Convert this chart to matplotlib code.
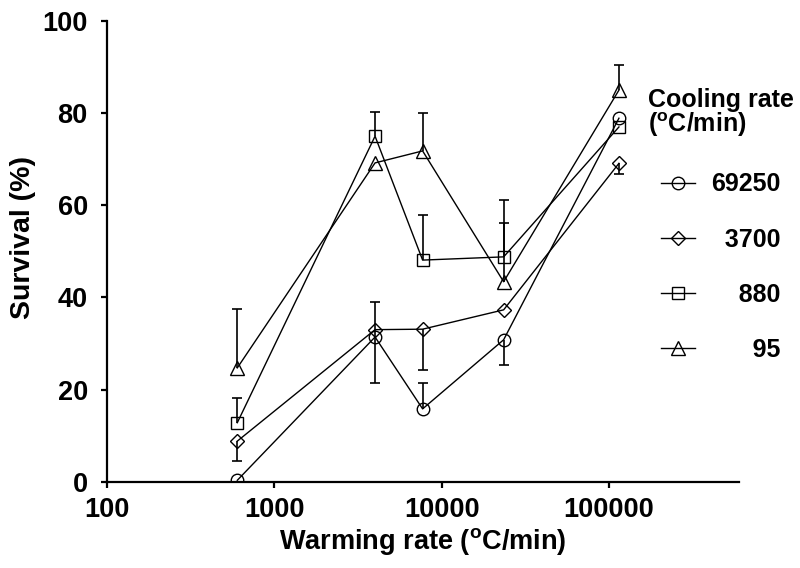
import numpy as np
import matplotlib as mpl
mpl.use('Agg')
import matplotlib.pyplot as plt
from matplotlib.lines import Line2D

plt.rcParams['font.family'] = ['Liberation Sans', 'DejaVu Sans']
plt.rcParams['font.weight'] = 'bold'
plt.rcParams['mathtext.fontset'] = 'custom'
plt.rcParams['mathtext.rm'] = 'Liberation Sans:bold'

# warming rates (x) and survival for each cooling rate
warming = [600, 4000, 7700, 23500, 115000]
labels = ['69250', '3700', '880', '95']
markers = ['o', 'D', 's', '^']

surv_69250 = [0.3, 31.4, 15.8, 30.8, 78.9]
surv_3700 = [8.8, 33.0, 33.1, 37.3, 69.1]
surv_880 = [12.8, 75.0, 48.1, 48.8, 77.0]
surv_95 = [24.7, 69.2, 71.8, 43.4, 85.0]

# error bars (lower, upper); 0 = not drawn
lo_69250 = [0, 9.9, 0, 5.5, 0]
up_69250 = [0, 7.6, 5.6, 0, 0]
lo_3700 = [4.3, 0, 8.9, 0, 2.4]
up_3700 = [0, 0, 0, 0, 0]
lo_880 = [0, 0, 0, 0, 0]
up_880 = [5.4, 5.2, 9.8, 12.3, 0]
lo_95 = [0, 0, 0, 0, 0]
up_95 = [12.7, 0, 8.2, 12.7, 5.4]

series = [surv_69250, surv_3700, surv_880, surv_95]
lows = [lo_69250, lo_3700, lo_880, lo_95]
ups = [up_69250, up_3700, up_880, up_95]

fig = plt.figure(figsize=(8, 5.68), dpi=100)
ax = fig.add_axes([0.134, 0.152, 0.79, 0.811])

msizes = {'o': 9, 'D': 7.5, 's': 9, '^': 10}
for y, lo, up, m in zip(series, lows, ups, markers):
    x = np.array(warming, dtype=float)
    y = np.array(y)
    lo = np.array(lo)
    up = np.array(up)
    ax.plot(x, y, color='black', lw=1.0, marker=m, ms=msizes[m],
            mfc='none', mec='black', mew=1.0, zorder=3)
    for xi, yi, l, u in zip(x, y, lo, up):
        if u > 0:
            ax.vlines(xi, yi, yi + u, color='black', lw=1.2, zorder=2)
            ax.plot(xi, yi + u, marker='_', ms=7, mew=1.2, color='black', zorder=2)
        if l > 0:
            ax.vlines(xi, yi - l, yi, color='black', lw=1.2, zorder=2)
            ax.plot(xi, yi - l, marker='_', ms=7, mew=1.2, color='black', zorder=2)

ax.set_xscale('log')
ax.set_xlim(100, 10 ** 5.78)
ax.set_ylim(0, 100)
ax.set_xticks([100, 1000, 10000, 100000])
ax.set_xticklabels(['100', '1000', '10000', '100000'])
ax.minorticks_off()
ax.set_yticks([0, 20, 40, 60, 80, 100])

for s in ['top', 'right']:
    ax.spines[s].set_visible(False)
for s in ['left', 'bottom']:
    ax.spines[s].set_linewidth(1.6)
ax.tick_params(axis='both', direction='out', length=4, width=1.6,
               labelsize=19.5)
ax.tick_params(axis='y', pad=10)
ax.tick_params(axis='x', pad=7)

ax.set_xlabel(r'Warming rate ($^{\mathrm{o}}$C/min)', fontsize=19.5,
              fontweight='bold', labelpad=2)
ax.set_ylabel('Survival (%)', fontsize=20.5, fontweight='bold', labelpad=8)
ax.yaxis.set_label_coords(-0.113, 0.53)

handles = [Line2D([], [], color='black', lw=1.0, marker=m, ms=msizes[m],
                  mfc='none', mec='black', mew=1.0) for m in markers]
pad = '\u2007'
leg_labels = [pad * (5 - len(t)) + t for t in labels]
leg = ax.legend(handles, leg_labels, title='Cooling rate\n($^{\\mathrm{o}}$C/min)',
                loc='upper center', bbox_to_anchor=(721 / 800, 1 - 76 / 568),
                bbox_transform=fig.transFigure, frameon=False,
                fontsize=18, title_fontsize=18, handlelength=1.36,
                handletextpad=0.64, labelspacing=1.25, borderpad=0)
leg.get_title().set_fontweight('bold')
leg.get_title().set_linespacing(0.9)
for t in leg.get_texts():
    t.set_fontweight('bold')
leg._legend_box.sep = 24

fig.savefig('out.png', dpi=100)
